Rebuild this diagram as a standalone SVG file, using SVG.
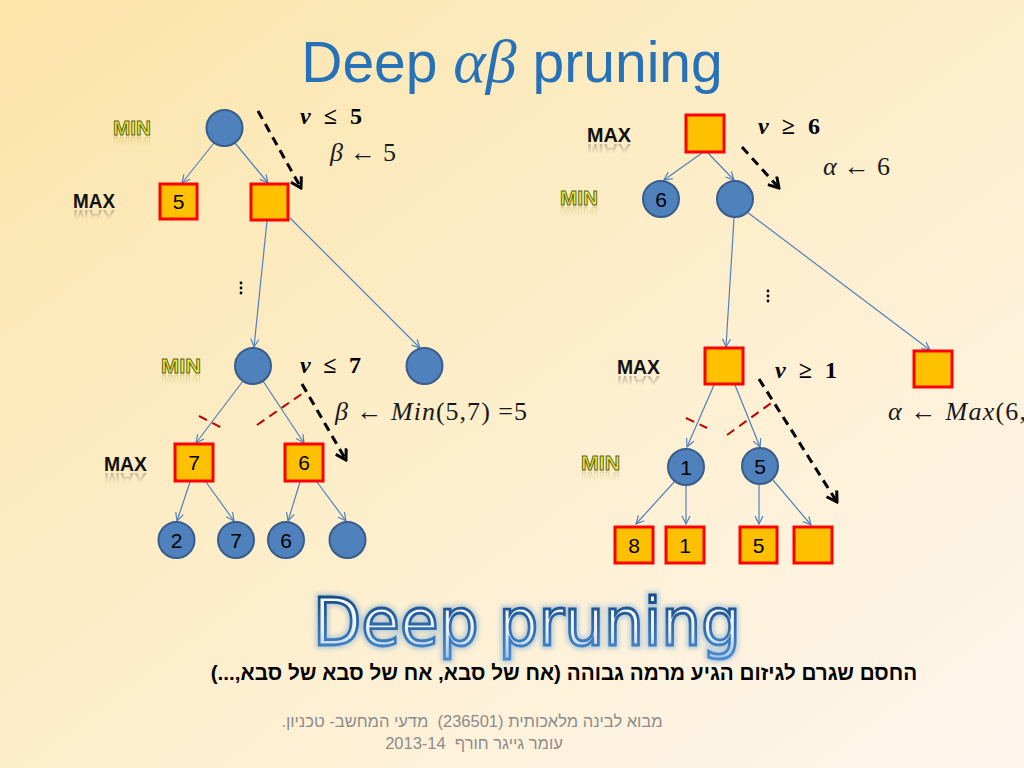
<svg xmlns="http://www.w3.org/2000/svg" xmlns:xlink="http://www.w3.org/1999/xlink" width="1024" height="768" viewBox="0 0 1024 768">
<defs>
<linearGradient id="bg" x1="0" y1="0" x2="1" y2="1">
<stop offset="0" stop-color="#fce5aa"/>
<stop offset="0.5" stop-color="#fdeecb"/>
<stop offset="1" stop-color="#fef6ee"/>
</linearGradient>
<linearGradient id="wa" x1="0" y1="0" x2="0" y2="1">
<stop offset="0" stop-color="#ffffff"/>
<stop offset="0.6" stop-color="#e8f0fa"/>
<stop offset="1" stop-color="#9fc0e6"/>
</linearGradient>
<linearGradient id="was" x1="0" y1="0" x2="0" y2="1">
<stop offset="0" stop-color="#0f3f78"/>
<stop offset="1" stop-color="#4b8fd4"/>
</linearGradient>
<linearGradient id="rg" x1="0" y1="0" x2="0" y2="1">
<stop offset="0.4" stop-color="#000"/>
<stop offset="1" stop-color="#fff"/>
</linearGradient>
<mask id="refl" maskContentUnits="objectBoundingBox">
<rect x="0" y="0" width="1" height="1" fill="url(#rg)"/>
</mask>
<filter id="glow" x="-10%" y="-20%" width="120%" height="140%">
<feGaussianBlur stdDeviation="2.5"/>
</filter>
<marker id="ab" viewBox="0 0 10 10" refX="9" refY="5" markerWidth="10" markerHeight="10" markerUnits="userSpaceOnUse" orient="auto">
<path d="M1,1 L9,5 L1,9" fill="none" stroke="#4f81bd" stroke-width="1.2"/>
</marker>
<marker id="ak" viewBox="0 0 14 14" refX="12" refY="7" markerWidth="14" markerHeight="14" markerUnits="userSpaceOnUse" orient="auto">
<path d="M2,1 L12,7 L2,13" fill="none" stroke="#000" stroke-width="3"/>
</marker>
<style>
.c{fill:#4f81bd;stroke:#385d8a;stroke-width:2}
.s{fill:#ffc000;stroke:#ff0000;stroke-width:3}
.n{font-family:"Liberation Sans",Arial,sans-serif;font-size:21px;fill:#000;text-anchor:middle}
.e{stroke:#4f81bd;stroke-width:1.2;fill:none;marker-end:url(#ab)}
.d{stroke:#000;stroke-width:3;stroke-dasharray:9,6;fill:none;marker-end:url(#ak)}
.r{stroke:#c00000;stroke-width:2;stroke-dasharray:9,6;fill:none}
.min{font-family:"Liberation Sans",Arial,sans-serif;font-weight:bold;font-size:20px;fill:#e8f048;stroke:#5e5e12;stroke-width:0.9}
.max{font-family:"Liberation Sans",Arial,sans-serif;font-weight:bold;font-size:21px;fill:#111}
.m{font-family:"Liberation Serif","DejaVu Serif",serif;font-size:26px;fill:#1a1a1a}
.mb{font-family:"Liberation Serif","DejaVu Serif",serif;font-size:24px;font-weight:bold;fill:#000}
.it{font-style:italic}
.rf{opacity:0.35}
</style>
</defs>
<rect x="0" y="0" width="1024" height="768" fill="url(#bg)"/>

<g id="title">
<text x="512" y="82" text-anchor="middle" font-family="Liberation Sans,Arial,sans-serif" font-size="57" fill="#2672b8">Deep <tspan font-family="Liberation Serif,serif" font-style="italic" font-size="62">αβ</tspan> pruning</text>
</g>

<g id="levels">
<text id="l1" class="min" x="113" y="135" textLength="38" lengthAdjust="spacingAndGlyphs">MIN</text>
<use xlink:href="#l1" class="rf" mask="url(#refl)" transform="matrix(1,0,0,-1,0,272)"/>
<text id="l2" class="max" x="73" y="208" textLength="42" lengthAdjust="spacingAndGlyphs">MAX</text>
<use xlink:href="#l2" class="rf" mask="url(#refl)" transform="matrix(1,0,0,-1,0,418)"/>
<text id="l3" class="min" x="161" y="373" textLength="40" lengthAdjust="spacingAndGlyphs">MIN</text>
<use xlink:href="#l3" class="rf" mask="url(#refl)" transform="matrix(1,0,0,-1,0,748)"/>
<text id="l4" class="max" x="104" y="471" textLength="43" lengthAdjust="spacingAndGlyphs">MAX</text>
<use xlink:href="#l4" class="rf" mask="url(#refl)" transform="matrix(1,0,0,-1,0,944)"/>
<text id="l5" class="max" x="587" y="142" textLength="44" lengthAdjust="spacingAndGlyphs">MAX</text>
<use xlink:href="#l5" class="rf" mask="url(#refl)" transform="matrix(1,0,0,-1,0,286)"/>
<text id="l6" class="min" x="560" y="205" textLength="38" lengthAdjust="spacingAndGlyphs">MIN</text>
<use xlink:href="#l6" class="rf" mask="url(#refl)" transform="matrix(1,0,0,-1,0,412)"/>
<text id="l7" class="max" x="617" y="374" textLength="43" lengthAdjust="spacingAndGlyphs">MAX</text>
<use xlink:href="#l7" class="rf" mask="url(#refl)" transform="matrix(1,0,0,-1,0,750)"/>
<text id="l8" class="min" x="581" y="470" textLength="39" lengthAdjust="spacingAndGlyphs">MIN</text>
<use xlink:href="#l8" class="rf" mask="url(#refl)" transform="matrix(1,0,0,-1,0,942)"/>
</g>

<g id="connectors">
<line class="e" x1="214" y1="143" x2="182" y2="183"/>
<line class="e" x1="235" y1="143" x2="268" y2="183"/>
<line class="e" x1="267" y1="221" x2="254" y2="347"/>
<line class="e" x1="290" y1="218" x2="420" y2="348"/>
<line class="e" x1="243" y1="381" x2="196" y2="443"/>
<line class="e" x1="263" y1="381" x2="304" y2="443"/>
<line class="e" x1="190" y1="482" x2="177" y2="521"/>
<line class="e" x1="206" y1="482" x2="234" y2="521"/>
<line class="e" x1="300" y1="482" x2="288" y2="521"/>
<line class="e" x1="317" y1="482" x2="346" y2="521"/>
<line class="e" x1="702" y1="153" x2="664" y2="180"/>
<line class="e" x1="708" y1="153" x2="734" y2="180"/>
<line class="e" x1="734" y1="218" x2="726" y2="347"/>
<line class="e" x1="747" y1="212" x2="930" y2="350"/>
<line class="e" x1="714" y1="385" x2="687" y2="447"/>
<line class="e" x1="735" y1="385" x2="760" y2="447"/>
<line class="e" x1="675" y1="481" x2="636" y2="524"/>
<line class="e" x1="686" y1="486" x2="686" y2="524"/>
<line class="e" x1="759" y1="485" x2="759" y2="524"/>
<line class="e" x1="773" y1="480" x2="811" y2="525"/>
<line class="d" x1="258" y1="111" x2="301" y2="188"/>
<line class="d" x1="302" y1="384" x2="346" y2="460"/>
<line class="d" x1="742" y1="147" x2="779" y2="188"/>
<line class="d" x1="759" y1="379" x2="837" y2="502"/>
<line class="r" x1="199" y1="416" x2="222" y2="428"/>
<line class="r" x1="257" y1="425" x2="306" y2="391"/>
<line class="r" x1="686" y1="418" x2="707" y2="428"/>
<line class="r" x1="727" y1="435" x2="774" y2="401"/>
</g>

<g id="dots">
<circle cx="241" cy="283" r="1.4" fill="#000"/><circle cx="241" cy="288" r="1.4" fill="#000"/><circle cx="241" cy="293" r="1.4" fill="#000"/>
<circle cx="768" cy="291" r="1.4" fill="#000"/><circle cx="768" cy="296" r="1.4" fill="#000"/><circle cx="768" cy="301" r="1.4" fill="#000"/>
</g>

<g id="L-root"><circle class="c" cx="224.5" cy="128" r="18"/></g>
<g id="L-max5"><rect class="s" x="160" y="184" width="37" height="35"/><text class="n" x="178.5" y="209">5</text></g>
<g id="L-max"><rect class="s" x="251" y="184" width="37" height="36"/></g>
<g id="L-min"><circle class="c" cx="253" cy="366" r="18"/></g>
<g id="L-min2"><circle class="c" cx="424.5" cy="366" r="18"/></g>
<g id="L-max7"><rect class="s" x="175" y="444" width="38" height="37"/><text class="n" x="194" y="470">7</text></g>
<g id="L-max6"><rect class="s" x="285" y="444" width="38" height="37"/><text class="n" x="304" y="470">6</text></g>
<g id="L-leaf2"><circle class="c" cx="176.5" cy="540" r="18"/><text class="n" x="176.5" y="548">2</text></g>
<g id="L-leaf7"><circle class="c" cx="236" cy="540" r="18"/><text class="n" x="236" y="548">7</text></g>
<g id="L-leaf6"><circle class="c" cx="286" cy="540" r="18"/><text class="n" x="286" y="548">6</text></g>
<g id="L-leaf"><circle class="c" cx="347.5" cy="540" r="18"/></g>

<g id="R-root"><rect class="s" x="686" y="115" width="38" height="37"/></g>
<g id="R-min6"><circle class="c" cx="661" cy="199" r="18"/><text class="n" x="661" y="207">6</text></g>
<g id="R-min"><circle class="c" cx="735" cy="199" r="18"/></g>
<g id="R-max"><rect class="s" x="705" y="348" width="38" height="36"/></g>
<g id="R-max2"><rect class="s" x="914" y="351" width="38" height="36"/></g>
<g id="R-min1"><circle class="c" cx="686" cy="467" r="18"/><text class="n" x="686" y="475">1</text></g>
<g id="R-min5"><circle class="c" cx="760" cy="466" r="18"/><text class="n" x="760" y="474">5</text></g>
<g id="R-leaf8"><rect class="s" x="615" y="527" width="38" height="36"/><text class="n" x="634" y="553">8</text></g>
<g id="R-leaf1"><rect class="s" x="666" y="527" width="38" height="36"/><text class="n" x="685" y="553">1</text></g>
<g id="R-leaf5"><rect class="s" x="740" y="527" width="37" height="36"/><text class="n" x="758.5" y="553">5</text></g>
<g id="R-leaf"><rect class="s" x="794" y="527" width="38" height="36"/></g>

<g id="math">
<text class="mb" x="300" y="124" textLength="62"><tspan class="it">v</tspan> ≤ 5</text>
<text class="m" x="330" y="161" textLength="66"><tspan class="it">β</tspan> ← 5</text>
<text class="mb" x="300" y="373" textLength="61"><tspan class="it">v</tspan> ≤ 7</text>
<text class="m" x="335" y="420" textLength="192"><tspan class="it">β</tspan> ← <tspan class="it">Min</tspan>(5,7) =5</text>
<text class="mb" x="758" y="134" textLength="62"><tspan class="it">v</tspan> ≥ 6</text>
<text class="m" x="823" y="175" textLength="67"><tspan class="it">α</tspan> ← 6</text>
<text class="mb" x="775" y="378" textLength="62"><tspan class="it">v</tspan> ≥ 1</text>
<text class="m" x="888" y="420" textLength="200"><tspan class="it">α</tspan> ← <tspan class="it">Max</tspan>(6,1) =6</text>
</g>

<g id="wordart">
<text x="527" y="645" text-anchor="middle" font-family="DejaVu Sans,Verdana,sans-serif" font-size="66" textLength="428" lengthAdjust="spacingAndGlyphs" fill="none" stroke="#5b9bd5" stroke-width="7" opacity="0.45" filter="url(#glow)">Deep pruning</text>
<text x="527" y="645" text-anchor="middle" font-family="DejaVu Sans,Verdana,sans-serif" font-size="66" textLength="428" lengthAdjust="spacingAndGlyphs" fill="url(#wa)" stroke="url(#was)" stroke-width="2.8">Deep pruning</text>
</g>

<g id="caption">
<text x="564" y="680" text-anchor="middle" direction="rtl" font-family="Liberation Sans,Arial,sans-serif" font-weight="bold" font-size="20.7" fill="#000">החסם שגרם לגיזום הגיע מרמה גבוהה (אח של סבא, אח של סבא של סבא,...)</text>
</g>

<g id="footer" font-family="Liberation Sans,Arial,sans-serif" font-size="16.5" fill="#8c8c8c">
<text x="472" y="727" text-anchor="middle" direction="rtl" xml:space="preserve">מבוא לבינה מלאכותית (236501)  מדעי המחשב- טכניון.</text>
<text x="474" y="749" text-anchor="middle" direction="rtl" xml:space="preserve">עומר גייגר חורף  2013-14</text>
</g>
</svg>
